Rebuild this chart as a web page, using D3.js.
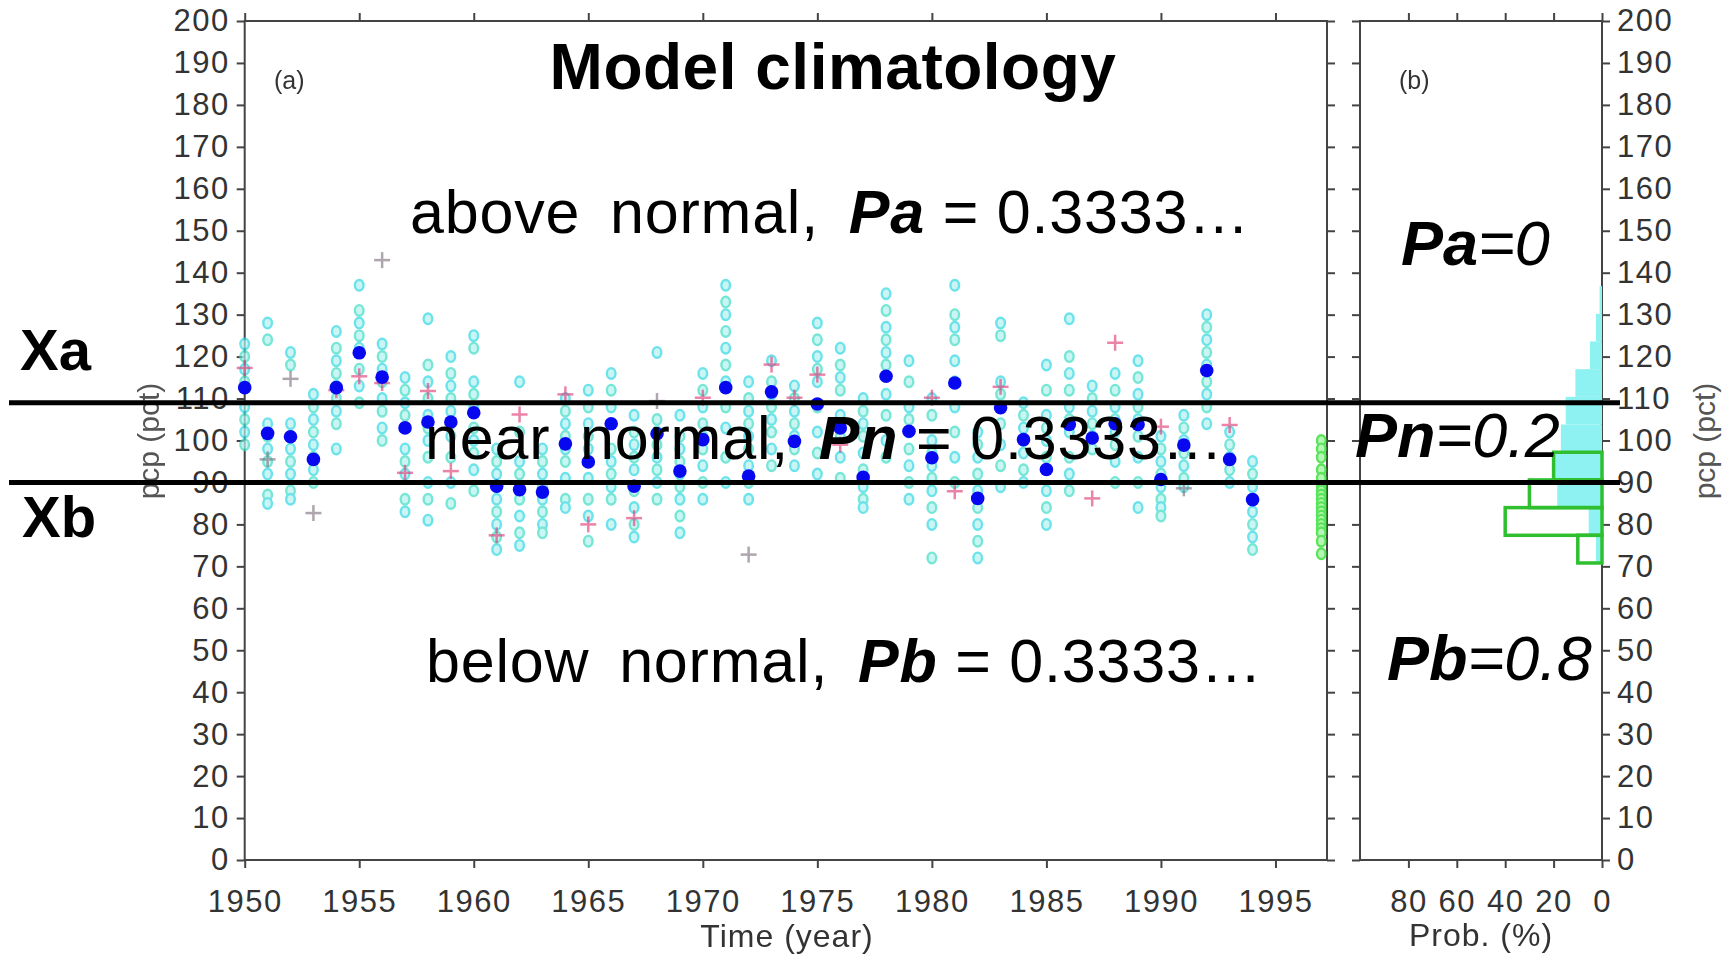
<!DOCTYPE html>
<html>
<head>
<title>Model climatology</title>
<style>
  body { margin: 0; background: #fff; }
  text { font-family: "Liberation Sans", Arial, sans-serif; }
  .tick text { font-size: 31px; fill: #333; letter-spacing: 1.5px; }
  .tick line { stroke: #444; stroke-width: 2; }
  .domain { display: none; }
  .frame { fill: none; stroke: #444; stroke-width: 2; }
</style>
</head>
<body>
<script src="https://cdnjs.cloudflare.com/ajax/libs/d3/7.8.5/d3.min.js"></script>
<script>
var years = [1950, 1951, 1952, 1953, 1954, 1955, 1956, 1957, 1958, 1959,
             1960, 1961, 1962, 1963, 1964, 1965, 1966, 1967, 1968, 1969,
             1970, 1971, 1972, 1973, 1974, 1975, 1976, 1977, 1978, 1979,
             1980, 1981, 1982, 1983, 1984, 1985, 1986, 1987, 1988, 1989,
             1990, 1991, 1992, 1993, 1994];

// ensemble mean (blue dots)
var meanValues = [112.6, 101.7, 100.9, 95.5, 112.6, 120.9, 115.1, 103, 104.4, 104.4,
                  106.6, 89.1, 88.3, 87.7, 99.2, 94.9, 104, 89.1, 101.6, 92.7,
                  100.2, 112.6, 91.5, 111.6, 99.8, 108.7, 103, 91.2, 115.3, 102.2,
                  95.9, 113.7, 86.2, 107.8, 100.2, 93.1, 103.8, 100.6, 104, 103.8,
                  90.7, 98.9, 116.7, 95.5, 85.9];

// ensemble members (open cyan circles), one list per year
var members = [
  [123, 120, 117, 114, 108, 105, 102, 99],
  [128, 124, 104, 101, 98, 95, 92, 87, 85],
  [121, 118, 104, 101, 98, 95, 92, 88, 86],
  [111, 108, 105, 102, 99, 96, 93, 90],
  [126, 122, 119, 116, 113, 110, 107, 104, 98],
  [137, 131, 128, 125, 122, 117, 113, 109],
  [123, 120, 117, 114, 110, 107, 103, 100],
  [115, 112, 109, 106, 98, 95, 92, 86, 83],
  [129, 118, 114, 110, 106, 103, 100, 96, 90, 86, 81],
  [120, 116, 113, 110, 107, 104, 101, 96, 90, 85],
  [125, 122, 114, 111, 108, 103, 100, 97, 93, 88],
  [98, 95, 92, 89, 86, 83, 80, 77, 74],
  [114, 102, 95, 92, 89, 86, 82, 78, 75],
  [98, 95, 92, 89, 86, 83, 80, 78],
  [110, 107, 104, 101, 98, 95, 91, 86, 84],
  [112, 108, 104, 101, 98, 95, 91, 86, 82, 76],
  [116, 112, 108, 98, 95, 92, 89, 86, 80],
  [106, 102, 99, 96, 93, 88, 84, 80, 77],
  [121, 105, 102, 99, 96, 93, 90, 86],
  [106, 101, 98, 95, 92, 89, 86, 82, 78],
  [116, 112, 108, 104, 101, 98, 94, 90, 86],
  [137, 133, 130, 126, 122, 118, 114, 108, 103, 96, 90],
  [114, 110, 107, 104, 101, 98, 94, 90, 86],
  [119, 114, 111, 108, 105, 102, 98, 94],
  [113, 110, 107, 104, 101, 98, 94],
  [128, 124, 120, 117, 114, 108, 102, 97, 92],
  [122, 118, 115, 112, 106, 101, 96, 91],
  [110, 107, 104, 101, 97, 93, 89, 86, 84],
  [135, 131, 127, 124, 121, 118, 111, 106, 100, 96],
  [119, 114, 108, 105, 102, 98, 94, 90, 86],
  [110, 106, 100, 97, 94, 91, 88, 84, 80, 72],
  [137, 130, 127, 124, 119, 114, 108, 102, 96, 90],
  [102, 99, 96, 92, 88, 84, 80, 76, 72],
  [128, 125, 114, 111, 108, 104, 99, 94, 89],
  [109, 106, 103, 100, 97, 93, 90],
  [118, 112, 106, 103, 100, 96, 88, 84, 80],
  [129, 120, 116, 112, 108, 105, 102, 96, 92, 88],
  [113, 110, 107, 104, 101, 98],
  [116, 112, 108, 105, 102, 99, 95, 90],
  [119, 115, 111, 108, 105, 101, 96, 90, 84],
  [101, 98, 95, 92, 89, 86, 84, 82],
  [106, 103, 100, 97, 94, 91, 89],
  [130, 127, 124, 121, 118, 114, 111, 108, 104],
  [102, 99, 96, 93, 90],
  [95, 92, 89, 86, 83, 80, 77, 74]
];

// observations (pink crosses) and grey crosses
var pinkYears  = [1950, 1954, 1955, 1956, 1957, 1958, 1959, 1961, 1962, 1964, 1965, 1967,
                  1970, 1973, 1974, 1975, 1976, 1980, 1981, 1983, 1987, 1988, 1990, 1993];
var pinkValues = [117.3, 112, 115.3, 113.7, 92.3, 111.8, 92.7, 77.4, 106.2, 111, 80, 81.5,
                  110.2, 118.1, 110.2, 115.7, 99, 110.2, 87.9, 112.8, 86.2, 123.3, 103.3, 103.7];
var greyYears  = [1951, 1952, 1953, 1956, 1968, 1972, 1991];
var greyValues = [95.5, 114.7, 82.7, 143, 109.4, 72.8, 88.6];

// verifying members at the forecast year (green)
var forecastYear = 1997;
var forecastValues = [100, 98, 96, 93, 91, 89, 88, 87, 86, 85, 84, 83, 82, 81, 80, 79, 78, 76, 73];

// histograms, panel (b)
var binEdges = [70.8, 77.4, 84.0, 90.6, 97.2, 103.8, 110.4, 117.0, 123.6, 130.2, 136.8];
var climProb = [2.5, 5.5, 18.5, 20, 17, 15, 11, 5, 2.5, 1];
var forecastProb = [10, 40, 30, 20, 0, 0, 0, 0, 0, 0];

var xa = 109, xb = 90;
var yearTicks = [1950, 1955, 1960, 1965, 1970, 1975, 1980, 1985, 1990, 1995];
var probTicks = [80, 60, 40, 20, 0];

var width = 1730, height = 966;

var svg = d3.select("body").append("svg")
  .attr("width", width)
  .attr("height", height);

svg.append("rect").attr("width", width).attr("height", height).attr("fill", "#fff");

var x = d3.scaleLinear().domain([1950, 1997.25]).range([244.7, 1327]);
var y = d3.scaleLinear().domain([0, 200]).range([860, 21]);
var xp = d3.scaleLinear().domain([100, 0]).range([1360, 1602]);
var yTicks = d3.range(0, 201, 10);

// axes panel (a)
svg.append("g").attr("transform", "translate(" + x.range()[0] + ",0)")
  .call(d3.axisLeft(y).tickValues(yTicks).tickSize(8).tickPadding(7).tickSizeOuter(0));
svg.append("g").attr("transform", "translate(" + x.range()[1] + ",0)")
  .call(d3.axisRight(y).tickValues(yTicks).tickSize(8).tickFormat("").tickSizeOuter(0));
svg.append("g").attr("transform", "translate(0," + y.range()[0] + ")")
  .call(d3.axisBottom(x).tickValues(yearTicks).tickFormat(d3.format("d"))
    .tickSize(8).tickPadding(22).tickSizeOuter(0));
svg.append("g").attr("transform", "translate(0," + y.range()[1] + ")")
  .call(d3.axisTop(x).tickValues(yearTicks).tickFormat("").tickSize(8).tickSizeOuter(0));

// axes panel (b)
svg.append("g").attr("transform", "translate(" + xp.range()[0] + ",0)")
  .call(d3.axisLeft(y).tickValues(yTicks).tickSize(8).tickFormat("").tickSizeOuter(0));
svg.append("g").attr("transform", "translate(" + xp.range()[1] + ",0)")
  .call(d3.axisRight(y).tickValues(yTicks).tickSize(8).tickPadding(7).tickSizeOuter(0));
svg.append("g").attr("transform", "translate(0," + y.range()[0] + ")")
  .call(d3.axisBottom(xp).tickValues(probTicks).tickSize(8).tickPadding(22).tickSizeOuter(0));
svg.append("g").attr("transform", "translate(0," + y.range()[1] + ")")
  .call(d3.axisTop(xp).tickValues(probTicks).tickFormat("").tickSize(8).tickSizeOuter(0));

svg.append("rect").attr("class", "frame")
  .attr("x", x.range()[0]).attr("y", y.range()[1])
  .attr("width", x.range()[1] - x.range()[0]).attr("height", y.range()[0] - y.range()[1]);
svg.append("rect").attr("class", "frame")
  .attr("x", xp.range()[0]).attr("y", y.range()[1])
  .attr("width", xp.range()[1] - xp.range()[0]).attr("height", y.range()[0] - y.range()[1]);

// histogram (b)
var bins = climProb.map(function(p, i) {
  return { lo: binEdges[i], hi: binEdges[i + 1], clim: p, fc: forecastProb[i] };
});
svg.append("g").selectAll("rect")
  .data(bins).enter().append("rect")
  .attr("x", function(d) { return xp(d.clim); })
  .attr("y", function(d) { return y(d.hi); })
  .attr("width", function(d) { return xp(0) - xp(d.clim); })
  .attr("height", function(d) { return y(d.lo) - y(d.hi); })
  .attr("fill", "#8ef2f2");
svg.append("g").selectAll("rect")
  .data(bins.filter(function(d) { return d.fc > 0; })).enter().append("rect")
  .attr("x", function(d) { return xp(d.fc); })
  .attr("y", function(d) { return y(d.hi); })
  .attr("width", function(d) { return xp(0) - xp(d.fc); })
  .attr("height", function(d) { return y(d.lo) - y(d.hi); })
  .attr("fill", "none")
  .attr("stroke", "#2fbf2f")
  .attr("stroke-width", 3.5);

// ensemble members
var memberPts = [];
members.forEach(function(list, i) {
  list.forEach(function(v, j) { memberPts.push({ year: years[i], v: v, k: j }); });
});
svg.append("g").attr("opacity", 0.7).selectAll("ellipse")
  .data(memberPts).enter().append("ellipse")
  .attr("cx", function(d) { return x(d.year); })
  .attr("cy", function(d) { return y(d.v); })
  .attr("rx", 4.3)
  .attr("ry", 5.3)
  .attr("fill", "#b4f2ee")
  .attr("stroke", function(d) { return d.k % 2 ? "#3ddcc4" : "#2fd8e4"; })
  .attr("stroke-width", 2.4);

svg.append("g").attr("opacity", 0.75).selectAll("ellipse")
  .data(forecastValues).enter().append("ellipse")
  .attr("cx", x(forecastYear))
  .attr("cy", function(d) { return y(d); })
  .attr("rx", 4.3)
  .attr("ry", 5.3)
  .attr("fill", "#9ef29e")
  .attr("stroke", "#22dd22")
  .attr("stroke-width", 2.4);

// crosses
function crosses(ys, vs, color, op) {
  var g = svg.append("g").attr("opacity", op).attr("stroke", color).attr("stroke-width", 2.5);
  var s = g.selectAll("g").data(vs).enter().append("g")
    .attr("transform", function(d, i) { return "translate(" + x(ys[i]) + "," + y(d) + ")"; });
  s.append("line").attr("x1", -8).attr("x2", 8);
  s.append("line").attr("y1", -8).attr("y2", 8);
}
crosses(pinkYears, pinkValues, "#e0407a", 0.65);
crosses(greyYears, greyValues, "#7a6a78", 0.6);

// ensemble mean
svg.append("g").selectAll("circle")
  .data(meanValues).enter().append("circle")
  .attr("cx", function(d, i) { return x(years[i]); })
  .attr("cy", function(d) { return y(d); })
  .attr("r", 6.8)
  .attr("fill", "#0808f0");

// text
function label(tx, ty, parts, size, anchor) {
  var t = svg.append("text").attr("x", tx).attr("y", ty)
    .attr("font-size", size).attr("text-anchor", anchor || "start")
    .attr("fill", "#000");
  parts.forEach(function(p) {
    t.append("tspan").text(p[0])
      .attr("font-weight", p[1] ? "bold" : "normal")
      .attr("font-style", p[2] ? "italic" : "normal");
  });
  return t;
}
label(833, 89, [["Model climatology", 1]], 64, "middle").attr("letter-spacing", 0.5);
label(274, 89, [["(a)"]], 25).attr("fill", "#333");
label(1399, 89, [["(b)"]], 25).attr("fill", "#333");

function category(tx, ty, word, p) {
  var t = label(tx, ty, [[word + " normal, "], [p, 1, 1], [" = 0.3333…"]], 61)
    .attr("letter-spacing", 0.8);
  t.select("tspan").attr("word-spacing", 12);
}
category(410, 233, "above", "Pa");
category(425, 459, "near", "Pn");
category(426, 682, "below", "Pb");

label(1401, 265, [["Pa", 1, 1], ["=0", 0, 1]], 63);
label(1355, 457, [["Pn", 1, 1], ["=0.2", 0, 1]], 63);
label(1387, 680, [["Pb", 1, 1], ["=0.8", 0, 1]], 63);

label(20, 370, [["Xa", 1]], 58);
label(22, 537, [["Xb", 1]], 58);

label(787, 947, [["Time (year)"]], 32, "middle").attr("fill", "#333").attr("letter-spacing", 1);
label(1481, 946, [["Prob. (%)"]], 32, "middle").attr("fill", "#333").attr("letter-spacing", 1);
label(0, 0, [["pcp (pct)"]], 30, "middle").attr("fill", "#555")
  .attr("transform", "translate(159,441) rotate(-90)");
label(0, 0, [["pcp (pct)"]], 30, "middle").attr("fill", "#555")
  .attr("transform", "translate(1715,441) rotate(-90)");

// category boundaries
svg.append("g").selectAll("line")
  .data([xa, xb]).enter().append("line")
  .attr("x1", 9).attr("x2", 1620)
  .attr("y1", function(d) { return y(d); })
  .attr("y2", function(d) { return y(d); })
  .attr("stroke", "#000")
  .attr("stroke-width", 5);
</script>
</body>
</html>
